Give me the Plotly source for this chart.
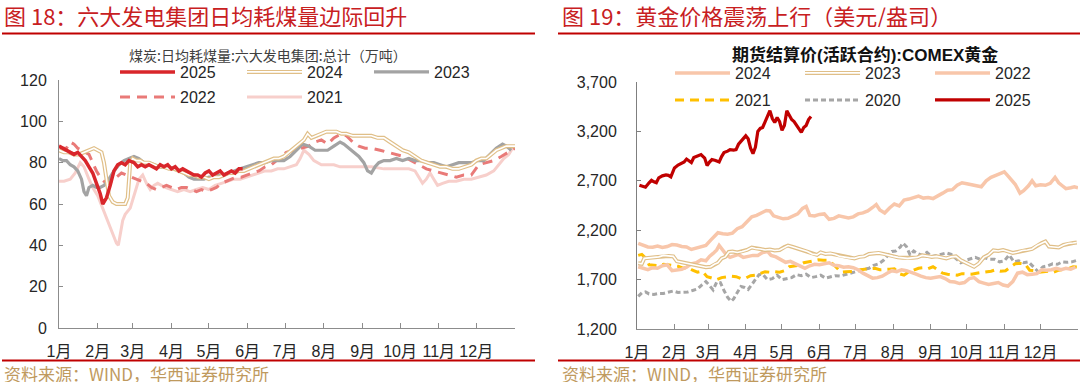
import plotly.graph_objects as go

W, H = 1080, 385

# ---------------- data ----------------
MONTH_TICKS = [0, 31, 59, 90, 120, 151, 181, 212, 243, 273, 304, 334, 365]
MONTH_LABELS = ["1月", "2月", "3月", "4月", "5月", "6月", "7月", "8月", "9月", "10月", "11月", "12月", ""]

COAL_TICKS = [0, 20, 40, 60, 80, 100, 120]
GOLD_TICKS = [1200, 1700, 2200, 2700, 3200, 3700]

# Left: daily coal consumption of six power groups (10k tons), day-of-year -> value
coal25_d = [0,3,6,9,12,15,18,21,24,27,30,33,35,38,41,44,47,50,53,56,60,63,66,69,72,75,78,81,84,87,90,93,96,99,102,105,108,111,114,117,120,123,126,129,132,135,138,141,144,147]
coal25_v = [88,87,86,85,84,85,83,81,78,75,70,65,60,63,69,76,79,80,79,81,80,78,79,78,79,78,77,79,78,79,77,78,76,77,76,75,74,74,73,75,76,74,75,76,74,75,76,75,77,77]

coal24_d = [0,4,8,12,16,20,24,28,31,34,36,38,40,43,46,50,53,55,56,57,59,62,65,68,72,76,80,84,88,92,96,100,104,108,112,116,120,124,128,132,136,140,144,148,152,156,160,164,168,172,176,180,184,188,192,196,199,202,206,210,214,218,222,226,230,235,240,245,250,255,260,265,270,275,280,285,290,295,300,305,310,315,320,325,330,334,338,342,346,350,354,358,362,365]
coal24_v = [86,85,85,84,84,85,86,87,86,85,80,72,64,61,60,60,60,63,70,80,82,81,81,80,80,79,78,78,77,77,76,75,74,74,73,73,72,73,73,74,75,75,76,76,77,78,79,80,81,82,82,83,85,87,89,91,94,92,93,94,95,95,95,94,94,93,93,93,93,92,92,90,88,86,85,83,81,80,79,78,78,77,77,78,79,81,82,82,84,86,87,88,88,88]

coal23_d = [0,3,6,9,12,15,18,20,22,24,27,30,33,36,40,44,48,52,56,60,64,68,72,76,80,84,88,92,96,100,104,108,112,116,120,124,128,132,136,140,145,150,155,160,165,170,175,180,185,190,195,200,205,210,215,220,225,228,232,236,240,244,247,250,253,256,260,265,270,275,280,285,290,295,300,305,310,315,320,325,330,335,340,345,350,355,358,362]
coal23_v = [82,81,81,79,78,76,72,66,64,68,69,68,68,69,72,76,79,81,82,83,82,80,80,79,78,78,78,77,76,75,73,72,72,72,73,73,74,74,75,76,77,78,79,80,80,81,81,81,83,86,89,88,86,86,86,88,90,89,87,85,83,80,76,75,78,80,81,81,82,81,82,81,81,80,80,79,78,79,80,80,80,81,81,84,87,89,88,86]

coal22_d = [0,3,6,9,12,15,18,21,24,27,30,34,38,42,46,50,54,58,62,66,70,74,78,82,86,90,94,98,102,106,110,114,118,122,126,130,134,138,142,146,150,155,160,165,170,176,182,188,194,200,205,210,215,220,226,230,235,240,245,250,257,264,270,276,282,288,294,300,306,312,318,324,330,336,342,348,354,360,365]
coal22_v = [88,87,87,90,89,87,86,85,84,80,76,72,70,71,73,75,74,73,72,71,70,68,67,68,69,68,67,68,68,67,66,67,66,67,68,70,71,72,73,73,74,75,76,78,79,82,85,86,87,88,90,91,89,92,94,93,90,88,87,87,86,85,84,83,81,79,77,76,75,74,73,74,74,79,80,81,83,85,87]

coal21_d = [0,4,9,13,17,20,24,27,31,35,39,43,46,47.5,49,51,53,57,60,64,67,70,73,76,79,85,90,95,100,105,110,115,120,125,130,135,140,145,150,155,160,165,170,175,180,185,190,193,196,200,204,210,215,220,225,230,240,250,260,270,280,285,288,291,294,297,300,303,307,312,318,324,330,336,342,348,352,356,360,363,365]
coal21_v = [71,71,72,75,80,78,72,68,64,58,52,46,41,40,45,52,55,58,64,72,74,70,67,69,70,68,67,66,67,66,67,68,67,69,70,71,72,72,73,74,75,76,76,77,77,78,79,82,86,84,81,79,79,79,78,78,78,78,77,77,77,76,73,70,72,75,72,69,70,71,71,72,72,73,74,76,79,82,84,87,88]

# Right: COMEX gold settlement price (USD/oz), day-of-year -> value
gold24_d = [1,5,9,13,17,21,25,29,33,37,41,45,49,53,57,61,64,67,71,75,79,83,87,91,95,99,103,107,110,113,117,121,125,129,133,137,140,143,147,151,155,159,163,167,171,175,179,183,187,191,195,198,201,205,209,213,217,221,225,229,233,237,241,245,249,253,257,261,265,269,273,277,281,285,289,293,297,301,304,307,310,313,317,320,324,327,330,334,338,342,346,349,352,355,359,362,365]
gold24_v = [2067,2045,2030,2027,2040,2025,2035,2055,2050,2035,2030,2005,2020,2030,2045,2100,2140,2175,2165,2160,2170,2215,2235,2280,2335,2350,2375,2400,2395,2345,2330,2315,2320,2345,2365,2420,2440,2350,2345,2360,2365,2310,2320,2345,2335,2325,2335,2365,2375,2395,2430,2460,2405,2375,2425,2465,2445,2505,2515,2530,2545,2525,2530,2520,2545,2575,2605,2610,2655,2680,2670,2660,2655,2640,2700,2735,2755,2780,2790,2750,2705,2665,2575,2600,2650,2700,2650,2660,2655,2675,2735,2680,2650,2620,2630,2640,2630]

gold23_d = [1,4,6,10,14,18,22,26,30,33,37,41,45,49,53,57,61,64,67,70,73,76,79,83,87,91,95,98,102,106,110,114,118,122,125,129,133,137,141,145,149,152,156,160,164,168,172,176,180,184,188,192,196,200,204,208,212,216,220,224,228,232,236,240,244,248,252,256,260,264,268,272,276,279,283,287,291,295,299,303,307,311,315,319,323,327,331,335,338,341,345,349,353,357,361,364]
gold23_v = [1865,1860,1915,1920,1925,1930,1945,1940,1935,1885,1875,1865,1855,1845,1840,1825,1830,1855,1870,1915,1930,1980,1985,1975,1985,2000,2025,2015,2010,2000,2005,1995,2000,2030,2045,2030,2015,2000,1985,1960,1950,1975,1960,1965,1955,1935,1925,1920,1915,1930,1935,1960,1965,1970,1960,1945,1935,1925,1920,1915,1920,1925,1945,1940,1930,1935,1925,1915,1930,1935,1895,1870,1845,1830,1865,1925,1950,1995,1990,2000,1985,1970,1980,1995,2000,2010,2045,2070,2085,2035,2030,2025,2050,2065,2070,2075]

gold22_d = [1,5,9,13,17,21,25,29,33,37,41,45,49,53,57,60,63,66,68,71,74,77,80,84,88,92,96,100,104,108,111,115,119,123,127,131,135,139,143,147,151,155,159,163,167,171,175,179,183,187,191,195,199,203,207,211,215,219,223,227,231,235,239,243,247,251,255,259,263,267,271,275,279,283,287,291,295,299,303,307,311,315,319,323,327,331,335,339,343,347,351,355,359,363]
gold22_v = [1830,1815,1800,1820,1815,1840,1850,1790,1800,1805,1825,1860,1870,1900,1890,1935,1965,2000,2045,1990,1950,1925,1935,1955,1925,1935,1945,1945,1975,1985,1945,1930,1900,1875,1885,1860,1840,1815,1840,1855,1850,1860,1870,1845,1840,1825,1830,1820,1800,1765,1740,1715,1720,1735,1765,1790,1780,1800,1790,1775,1755,1735,1720,1715,1720,1730,1710,1680,1675,1660,1670,1710,1720,1680,1665,1650,1660,1670,1645,1635,1680,1765,1775,1750,1755,1760,1800,1795,1800,1815,1800,1815,1805,1825]

gold21_d = [1,4,7,10,14,18,22,26,30,34,38,42,46,50,54,58,62,66,70,74,78,82,86,90,94,98,102,106,110,114,118,122,126,130,134,138,142,146,150,154,158,162,166,169,173,177,181,185,189,193,197,201,205,209,213,217,221,225,229,233,237,241,245,249,253,257,261,265,269,273,277,281,285,289,293,297,301,305,309,313,317,321,325,329,333,337,341,345,349,353,357,361,364]
gold21_v = [1945,1955,1920,1850,1845,1840,1855,1850,1845,1835,1815,1825,1795,1775,1785,1730,1715,1700,1720,1730,1735,1730,1710,1715,1740,1745,1765,1780,1775,1780,1775,1790,1830,1840,1845,1870,1880,1895,1900,1895,1895,1860,1815,1775,1780,1780,1785,1800,1805,1805,1815,1800,1800,1805,1810,1760,1745,1780,1795,1815,1820,1810,1830,1795,1765,1755,1750,1745,1760,1755,1755,1765,1770,1780,1785,1800,1785,1790,1825,1860,1865,1860,1795,1790,1775,1780,1785,1775,1795,1805,1810,1830,1828]

gold20_d = [1,4,7,10,14,18,22,26,30,34,38,42,46,50,54,57,60,63,66,69,72,75,78,80,83,86,89,92,95,98,101,104,108,112,116,120,124,128,132,136,140,144,148,152,156,160,164,168,172,176,180,184,188,192,196,200,204,208,211,214,218,220,223,226,229,232,236,240,244,248,252,256,260,264,268,272,276,280,284,288,292,296,300,304,308,312,316,320,324,328,332,336,340,344,348,352,356,360,364]
gold20_v = [1530,1565,1575,1555,1550,1560,1560,1575,1585,1570,1575,1575,1590,1605,1650,1680,1640,1595,1675,1670,1590,1520,1480,1505,1570,1630,1620,1600,1650,1700,1750,1755,1700,1710,1745,1700,1710,1720,1750,1740,1755,1720,1730,1745,1715,1730,1740,1735,1750,1765,1780,1790,1805,1815,1845,1860,1895,1950,1985,1990,2030,2070,2035,1950,1990,1965,1945,1975,1935,1945,1960,1970,1955,1910,1870,1895,1910,1925,1905,1920,1905,1905,1880,1890,1950,1880,1890,1870,1880,1830,1780,1830,1840,1860,1855,1880,1875,1880,1895]

gold25_d = [2,5,7,10,12,14,16,18,21,24,26,28,30,31,34,36,39,41,43,45,47,50,53,56,58,60,62,65,68,70,72,75,77,80,82,84,87,90,92,94,96,98,100,102,104,106,108,110,112,114,116,118,120,122,124,126,128,130,132,134,136,138,140,142,144]
gold25_v = [2655,2640,2635,2680,2705,2690,2680,2730,2750,2760,2755,2740,2790,2830,2860,2870,2890,2920,2905,2885,2935,2950,2965,2930,2855,2890,2915,2905,2890,2945,2985,3000,3015,3010,3015,3070,3110,3155,3125,3030,2975,3040,3200,3230,3240,3300,3340,3410,3330,3290,3340,3300,3210,3260,3410,3370,3320,3300,3260,3215,3190,3240,3260,3320,3350]

# ---------------- styling ----------------
FONT = "Arial, 'Liberation Sans', 'Noto Sans CJK SC', sans-serif"
CJK = "'Noto Sans CJK SC', 'Liberation Sans', sans-serif"
AXIS_COLOR = "#8c8c8c"
TEXT_COLOR = "#262626"
TITLE_RED = "#c8201f"
RULE_RED = "#c00000"
SOURCE_COLOR = "#bf9a5e"


def px(x):
    return x / W


def py(y):
    return 1 - y / H


fig = go.Figure()


def line(x, y, name, color, width, dash="solid", xaxis="x", yaxis="y", legend="legend",
         rank=1, showlegend=True):
    fig.add_trace(go.Scatter(
        x=x, y=y, name=name, mode="lines", xaxis=xaxis, yaxis=yaxis,
        line=dict(color=color, width=width, dash=dash, shape="linear"),
        legend=legend, legendrank=rank, showlegend=showlegend, hoverinfo="skip",
    ))


def placeholder(name, legend, rank):
    fig.add_trace(go.Scatter(
        x=[None], y=[None], name=name, mode="lines",
        line=dict(color="rgba(0,0,0,0)", width=1), legend=legend, legendrank=rank,
        hoverinfo="skip",
    ))


# left panel traces (draw order: older first)
TAN = "#e0bf88"
line(coal21_d, coal21_v, "2021", "#f7cfcb", 3, legend="legend2", rank=2)
line(coal22_d, coal22_v, "2022", "#e97a78", 3, dash="10px,7px", legend="legend2", rank=1)
line(coal23_d, coal23_v, "2023", "#a3a3a3", 3.2, legend="legend", rank=3)
line(coal24_d, coal24_v, "2024", TAN, 4, legend="legend", rank=2)
line(coal24_d, coal24_v, " ", "#ffffff", 1.6, legend="legend3", rank=2)
placeholder(" ", "legend3", 1)
line(coal25_d, coal25_v, "2025", "#d9262b", 3.5, legend="legend", rank=1)

# right panel traces
SALMON = "#f8c6aa"
line(gold20_d, gold20_v, "2020", "#a6a6a6", 3, dash="5px,3px", xaxis="x2", yaxis="y2", legend="legend5", rank=2)
line(gold21_d, gold21_v, "2021", "#ffc000", 3, dash="9px,6px", xaxis="x2", yaxis="y2", legend="legend5", rank=1)
line(gold22_d, gold22_v, "2022", SALMON, 3.5, xaxis="x2", yaxis="y2", legend="legend4", rank=3)
line(gold23_d, gold23_v, "2023", TAN, 4, xaxis="x2", yaxis="y2", legend="legend4", rank=2)
line(gold23_d, gold23_v, " ", "#ffffff", 1.6, xaxis="x2", yaxis="y2", legend="legend6", rank=2)
placeholder(" ", "legend6", 1)
line(gold24_d, gold24_v, "2024", SALMON, 3.5, xaxis="x2", yaxis="y2", legend="legend4", rank=1)
line(gold25_d, gold25_v, "2025", "#c00000", 3.2, xaxis="x2", yaxis="y2", legend="legend5", rank=3)

# ---------------- axes ----------------
xcommon = dict(
    range=[0, 365], tickmode="array", tickvals=MONTH_TICKS, ticktext=MONTH_LABELS,
    showline=True, linecolor=AXIS_COLOR, linewidth=1, ticks="inside", ticklen=5,
    tickcolor=AXIS_COLOR, showgrid=False, zeroline=False, fixedrange=True,
    tickfont=dict(family=FONT, size=16, color=TEXT_COLOR), ticklabelstandoff=9,
)
fig.update_layout(
    xaxis=dict(domain=[px(59), px(515)], anchor="y", **xcommon),
    xaxis2=dict(domain=[px(637), px(1078)], anchor="y2", **xcommon),
    yaxis=dict(domain=[py(328), py(80)], anchor="x", range=[0, 120], tickvals=COAL_TICKS,
               showline=True, linecolor=AXIS_COLOR, linewidth=1, ticks="inside", ticklen=4,
               tickcolor=AXIS_COLOR, showgrid=False, zeroline=False, fixedrange=True,
               tickfont=dict(family=FONT, size=16, color=TEXT_COLOR), ticklabelstandoff=8),
    yaxis2=dict(domain=[py(329), py(82)], anchor="x2", range=[1200, 3700], tickvals=GOLD_TICKS,
                tickformat=",", showline=True, linecolor="#7f7f7f", linewidth=1, ticks="inside",
                ticklen=4, tickcolor="#7f7f7f", showgrid=False, zeroline=False, fixedrange=True,
                tickfont=dict(family=FONT, size=16, color=TEXT_COLOR), ticklabelstandoff=16),
)

# ---------------- legends ----------------
def legend_cfg(x, y, entry, font_color=TEXT_COLOR):
    return dict(
        orientation="h", x=px(x), y=py(y), xanchor="left", yanchor="middle",
        xref="paper", yref="paper", itemwidth=55, entrywidth=entry, entrywidthmode="pixels",
        bgcolor="rgba(0,0,0,0)", borderwidth=0, tracegroupgap=0,
        font=dict(family=FONT, size=16, color=font_color), itemclick=False, itemdoubleclick=False,
    )


fig.update_layout(
    legend=legend_cfg(115, 72, 57),
    legend2=legend_cfg(115, 97, 57),
    legend3=legend_cfg(115, 72, 57),
    legend4=legend_cfg(670, 73, 60),
    legend5=legend_cfg(670, 100, 60),
    legend6=legend_cfg(670, 73, 60),
)

# ---------------- text & rules ----------------
ann = [
    dict(text="图 18：六大发电集团日均耗煤量边际回升", x=px(3), y=py(15), xanchor="left",
         yanchor="middle", height=24, font=dict(family=CJK, size=22, color=TITLE_RED)),
    dict(text="图 19：黄金价格震荡上行（美元/盎司）", x=px(561), y=py(15), xanchor="left",
         yanchor="middle", height=24, font=dict(family=CJK, size=22, color=TITLE_RED)),
    dict(text="煤炭:日均耗煤量:六大发电集团:总计（万吨）", x=px(268), y=py(55), xanchor="center",
         yanchor="middle", font=dict(family=CJK, size=14, color="#404040")),
    dict(text="<b>期货结算价(活跃合约):COMEX黄金</b>", x=px(865), y=py(55), xanchor="center",
         yanchor="middle", font=dict(family=FONT, size=17, color="#111111")),
    dict(text="资料来源：WIND，华西证券研究所", x=px(3), y=py(372.5), xanchor="left",
         yanchor="middle", height=18, font=dict(family=CJK, size=17, color=SOURCE_COLOR)),
    dict(text="资料来源：WIND，华西证券研究所", x=px(561), y=py(372.5), xanchor="left",
         yanchor="middle", height=18, font=dict(family=CJK, size=17, color=SOURCE_COLOR)),
]
for a in ann:
    a.update(xref="paper", yref="paper", showarrow=False, borderpad=0)

rules = []
for (x0, x1, y) in [(2, 535, 33.5), (558, 1080, 33.5), (2, 535, 360.5), (558, 1080, 360.5)]:
    rules.append(dict(type="line", xref="paper", yref="paper", x0=px(x0), x1=px(x1),
                      y0=py(y), y1=py(y), line=dict(color=RULE_RED, width=2)))

fig.update_layout(
    width=W, height=H, margin=dict(l=0, r=0, t=0, b=0, autoexpand=False),
    paper_bgcolor="white", plot_bgcolor="white", annotations=ann, shapes=rules,
    hovermode=False, font=dict(family=FONT, color=TEXT_COLOR),
)

fig.write_html(
    "out.html",
    config={"displayModeBar": False, "staticPlot": True},
    post_script="document.body.style.margin='0px';document.body.style.overflow='hidden';",
)
